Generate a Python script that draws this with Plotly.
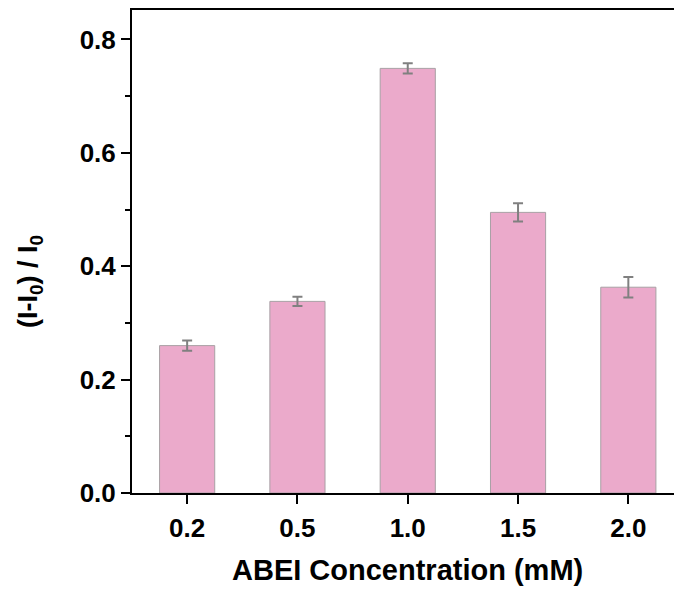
import plotly.graph_objects as go

categories = ["0.2", "0.5", "1.0", "1.5", "2.0"]
values = [0.260, 0.338, 0.749, 0.495, 0.363]
errors = [0.009, 0.008, 0.009, 0.016, 0.018]
x_title = "ABEI Concentration (mM)"
y_title = "(I-I<sub>0</sub>) / I<sub>0</sub>"

FONT = "Liberation Sans, Arial, sans-serif"

fig = go.Figure()
fig.add_trace(go.Bar(
    x=categories, y=values, width=0.5,
    marker=dict(color="#EBAACB", line=dict(color="#A8A0A4", width=1)),
    error_y=dict(type="data", array=errors, visible=True,
                 color="#808080", thickness=2, width=5),
))

fig.update_layout(
    width=674, height=592,
    margin=dict(l=132, r=0, t=10, b=99),
    plot_bgcolor="white", paper_bgcolor="white",
    showlegend=False,
    font=dict(family=FONT, color="black"),
    xaxis=dict(
        type="category", range=[-0.5, 4.414],
        showline=True, linecolor="black", linewidth=2, mirror=True,
        ticks="outside", ticklen=9, tickwidth=2, tickcolor="black",
        tickfont=dict(family=FONT, size=26, weight="bold"),
        ticklabelstandoff=2,
        showgrid=False, zeroline=False,
    ),
    yaxis=dict(
        range=[0, 0.852], dtick=0.2, tickformat=".1f",
        showline=True, linecolor="black", linewidth=2, mirror=False,
        ticks="outside", ticklen=9, tickwidth=2, tickcolor="black",
        tickfont=dict(family=FONT, size=26, weight="bold"),
        minor=dict(dtick=0.1, ticks="outside", ticklen=5, tickwidth=2, tickcolor="black"),
        showgrid=False, zeroline=False,
    ),
    annotations=[
        dict(text=x_title, xref="x", x=2, yref="paper", y=0, yanchor="top",
             yshift=-59, showarrow=False,
             font=dict(family=FONT, size=29, weight="bold")),
        dict(text=y_title, xref="paper", x=0, xanchor="center", xshift=-102,
             yref="paper", y=(592 - 99 - 282) / 483.0, yanchor="middle",
             textangle=-90, showarrow=False,
             font=dict(family=FONT, size=27, weight="bold")),
    ],
)

fig.write_html("out.html")
